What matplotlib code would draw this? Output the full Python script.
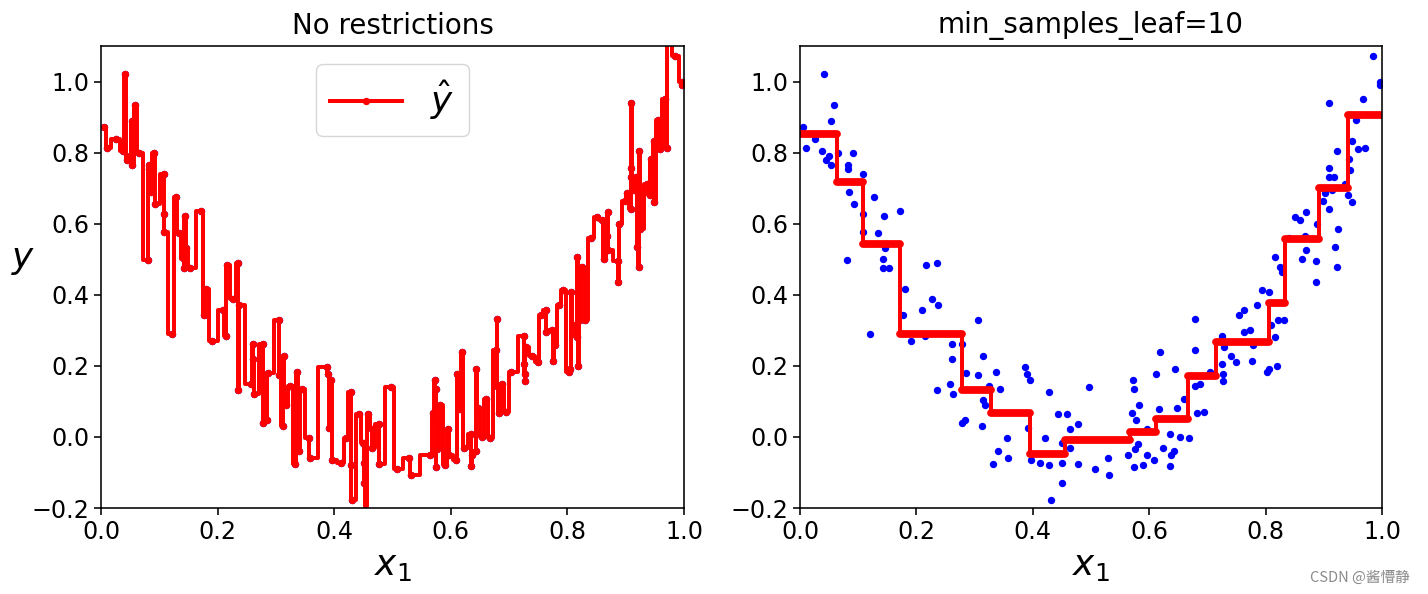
import numpy as np
import matplotlib
matplotlib.use("Agg")
import matplotlib.pyplot as plt

# training points (x1, y)
x_pts = [0.006, 0.010, 0.026, 0.038, 0.042, 0.044, 0.049, 0.054, 0.054, 0.059,
         0.065, 0.080, 0.082, 0.083, 0.085, 0.091, 0.093, 0.108, 0.108, 0.108,
         0.121, 0.128, 0.134, 0.142, 0.142, 0.144, 0.146, 0.153, 0.172, 0.177,
         0.180, 0.191, 0.209, 0.214, 0.216, 0.227, 0.235, 0.235, 0.237, 0.258,
         0.261, 0.261, 0.263, 0.278, 0.278, 0.284, 0.286, 0.306, 0.306, 0.312,
         0.314, 0.315, 0.318, 0.325, 0.332, 0.337, 0.340, 0.344, 0.356, 0.358,
         0.387, 0.390, 0.391, 0.395, 0.397, 0.412, 0.421, 0.428, 0.428, 0.431,
         0.443, 0.450, 0.451, 0.451, 0.455, 0.458, 0.464, 0.464, 0.477, 0.477,
         0.497, 0.507, 0.529, 0.531, 0.564, 0.570, 0.573, 0.574, 0.574, 0.576,
         0.577, 0.581, 0.582, 0.590, 0.596, 0.597, 0.609, 0.611, 0.616, 0.619,
         0.623, 0.635, 0.635, 0.637, 0.643, 0.644, 0.647, 0.653, 0.660, 0.668,
         0.678, 0.679, 0.679, 0.682, 0.687, 0.694, 0.704, 0.725, 0.725, 0.727,
         0.727, 0.729, 0.740, 0.749, 0.754, 0.763, 0.763, 0.773, 0.776, 0.779,
         0.786, 0.793, 0.802, 0.805, 0.806, 0.809, 0.816, 0.816, 0.819, 0.822,
         0.825, 0.829, 0.831, 0.841, 0.851, 0.859, 0.863, 0.868, 0.869, 0.869,
         0.887, 0.887, 0.889, 0.899, 0.902, 0.909, 0.909, 0.909, 0.909, 0.914,
         0.918, 0.920, 0.922, 0.923, 0.925, 0.937, 0.941, 0.944, 0.945, 0.949,
         0.949, 0.955, 0.958, 0.967, 0.970, 0.973, 0.985, 0.997, 0.997]
y_pts = [0.872, 0.813, 0.837, 0.805, 1.021, 0.778, 0.791, 0.888, 0.766, 0.934,
         0.800, 0.497, 0.753, 0.766, 0.690, 0.800, 0.656, 0.741, 0.627, 0.577,
         0.291, 0.674, 0.573, 0.502, 0.475, 0.623, 0.533, 0.475, 0.636, 0.342,
         0.417, 0.269, 0.358, 0.283, 0.484, 0.389, 0.489, 0.131, 0.370, 0.149,
         0.262, 0.220, 0.120, 0.262, 0.038, 0.048, 0.180, 0.329, 0.173, 0.031,
         0.229, 0.103, 0.090, 0.143, -0.075, 0.182, -0.041, 0.135, -0.002, -0.058,
         0.196, 0.176, 0.026, 0.160, -0.065, -0.072, -0.002, 0.127, -0.079, -0.178,
         0.065, -0.016, -0.072, -0.130, -0.240, 0.065, 0.022, -0.030, 0.036, -0.075,
         0.140, -0.091, -0.058, -0.107, -0.051, 0.068, 0.160, 0.135, -0.086, -0.033,
         0.047, -0.021, 0.090, -0.079, 0.022, -0.050, -0.065, 0.178, 0.078, 0.239,
         -0.032, 0.009, -0.083, -0.050, -0.041, 0.190, 0.080, 0.000, 0.106, -0.004,
         0.245, 0.333, 0.143, 0.068, 0.148, 0.070, 0.182, 0.285, 0.204, 0.176,
         0.157, 0.252, 0.227, 0.210, 0.342, 0.358, 0.295, 0.300, 0.215, 0.258,
         0.370, 0.414, 0.182, 0.190, 0.409, 0.316, 0.280, 0.505, 0.199, 0.330,
         0.479, 0.465, 0.330, 0.559, 0.618, 0.610, 0.501, 0.566, 0.632, 0.526,
         0.496, 0.437, 0.598, 0.664, 0.685, 0.640, 0.757, 0.732, 0.939, 0.694,
         0.732, 0.535, 0.479, 0.804, 0.585, 0.713, 0.680, 0.783, 0.750, 0.833,
         0.660, 0.893, 0.809, 0.951, 0.813, 1.130, 1.073, 1.000, 0.990]

# leaf boundaries and leaf values of the min_samples_leaf=10 tree
leaf_edges = [0.0, 0.063, 0.109, 0.172, 0.278, 0.329, 0.395, 0.455, 0.567,
              0.611, 0.667, 0.714, 0.805, 0.833, 0.892, 0.942, 1.0]
leaf_values = [0.851, 0.716, 0.543, 0.291, 0.132, 0.068, -0.049, -0.009,
               0.015, 0.051, 0.171, 0.266, 0.377, 0.557, 0.701, 0.906]

s = 1.428  # scale from the original 10x4 figure
X = np.array(x_pts)
y = np.array(y_pts)
order = np.argsort(X, kind="stable")

fig = plt.figure(figsize=(14.28, 5.94), dpi=100)
ax1 = fig.add_axes([101 / 1428, 86 / 594, 583 / 1428, 462 / 594])
ax2 = fig.add_axes([800 / 1428, 86 / 594, 582 / 1428, 462 / 594])

for ax in (ax1, ax2):
    ax.plot(X, y, "b.", markersize=6 * s)
    ax.axis([0, 1, -0.2, 1.1])
    ax.set_xticks([0, 0.2, 0.4, 0.6, 0.8, 1.0])
    ax.set_yticks([-0.2, 0, 0.2, 0.4, 0.6, 0.8, 1.0])
    ax.tick_params(labelsize=12 * s, length=3.5 * s, width=0.8 * s)
    for sp in ax.spines.values():
        sp.set_linewidth(0.8 * s)
    ax.set_xlabel("$x_1$", fontsize=18 * s)

# no restrictions: prediction follows every training point
ax1.plot(X[order], y[order], "r.-", linewidth=2 * s, markersize=6 * s,
         drawstyle="steps-mid", label=r"$\hat{y}$")
ax1.set_ylabel("$y$", fontsize=18 * s, rotation=0, labelpad=6)
ax1.legend(loc="upper center", fontsize=18 * s)
ax1.set_title("No restrictions", fontsize=14 * s, pad=9)

# min_samples_leaf=10: step function
ax2.step(leaf_edges, leaf_values + [leaf_values[-1]], where="post",
         color="red", linewidth=2 * s)
ax2.hlines(leaf_values, leaf_edges[:-1], leaf_edges[1:], color="red",
           linewidth=5.6, capstyle="round")
ax2.set_title("min_samples_leaf=10", fontsize=14 * s, pad=9)

fig.text(0.987, 0.016, "CSDN @酱懵静", ha="right", va="bottom", fontsize=10.5,
         color="#8a8a8a", family=["Noto Sans CJK SC", "DejaVu Sans"])

fig.savefig("out.png", dpi=100)
